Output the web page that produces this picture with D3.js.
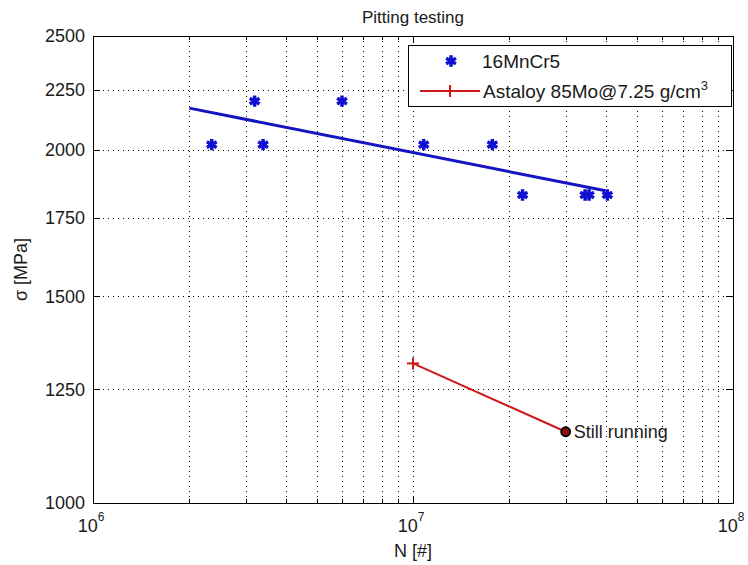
<!DOCTYPE html>
<html>
<head>
<meta charset="utf-8">
<script src="https://cdn.jsdelivr.net/npm/d3@7"></script>
<style>
  body { margin: 0; background: #fff; }
  text { font-family: Arial, "Liberation Sans", sans-serif; fill: #1a1a1a; }
</style>
</head>
<body>
<svg id="chart" width="748" height="565"></svg>
<script>
// 16MnCr5 measurements
const steelN = [2.35e6, 3.2e6, 3.4e6, 6.0e6, 1.08e7, 1.77e7, 2.2e7, 3.45e7, 3.55e7, 4.05e7]
const steelS = [2020, 2200, 2020, 2200, 2020, 2020, 1830, 1830, 1830, 1830]
// fitted line for 16MnCr5
const fitN = [2e6, 4e7]
const fitS = [2170, 1845]
// Astaloy 85Mo
const astN = [1e7, 3e7]
const astS = [1315, 1150]
const yTicks = [1000, 1250, 1500, 1750, 2000, 2250, 2500]
const xMajor = [1e6, 1e7, 1e8]

const mLeft = 93, mRight = 733, mTop = 36, mBottom = 503

const x = d3.scaleLog().domain([1e6, 1e8]).range([mLeft, mRight])
const y = d3.scaleLog().domain([1000, 2500]).range([mBottom, mTop])

const svg = d3.select("#chart")

// minor x positions 2..9 per decade
let xMinor = []
for (let e = 6; e < 8; e++) {
    for (let m = 2; m <= 9; m++) xMinor.push(m * Math.pow(10, e))
}

const grid = svg.append("g")
    .attr("stroke", "#000")
    .attr("stroke-width", 1)
    .attr("stroke-dasharray", "1,4")

grid.selectAll("line.vx")
    .data(xMinor.concat([1e7]))
    .join("line")
    .attr("x1", d => Math.round(x(d)) + 0.5)
    .attr("x2", d => Math.round(x(d)) + 0.5)
    .attr("y1", mTop)
    .attr("y2", mBottom)

grid.selectAll("line.hy")
    .data(yTicks.slice(1, -1))
    .join("line")
    .attr("x1", mLeft)
    .attr("x2", mRight)
    .attr("y1", d => Math.round(y(d)) + 0.5)
    .attr("y2", d => Math.round(y(d)) + 0.5)

// tick marks (inside, all four sides)
const ticks = svg.append("g").attr("stroke", "#000").attr("stroke-width", 1)
xMinor.forEach(d => {
    const px = Math.round(x(d)) + 0.5
    ticks.append("line").attr("x1", px).attr("x2", px).attr("y1", mBottom).attr("y2", mBottom - 4)
    ticks.append("line").attr("x1", px).attr("x2", px).attr("y1", mTop).attr("y2", mTop + 4)
})
xMajor.forEach(d => {
    const px = Math.round(x(d)) + 0.5
    ticks.append("line").attr("x1", px).attr("x2", px).attr("y1", mBottom).attr("y2", mBottom - 7)
    ticks.append("line").attr("x1", px).attr("x2", px).attr("y1", mTop).attr("y2", mTop + 7)
})
yTicks.forEach(d => {
    const py = Math.round(y(d)) + 0.5
    ticks.append("line").attr("x1", mLeft).attr("x2", mLeft + 7).attr("y1", py).attr("y2", py)
    ticks.append("line").attr("x1", mRight).attr("x2", mRight - 7).attr("y1", py).attr("y2", py)
})

// frame
svg.append("rect")
    .attr("x", mLeft + 0.5).attr("y", mTop + 0.5)
    .attr("width", mRight - mLeft).attr("height", mBottom - mTop)
    .attr("fill", "none").attr("stroke", "#000").attr("stroke-width", 1)

// y tick labels
svg.append("g").selectAll("text")
    .data(yTicks)
    .join("text")
    .attr("x", mLeft - 8)
    .attr("y", d => y(d))
    .attr("dy", "0.35em")
    .attr("text-anchor", "end")
    .style("font-size", "18px")
    .text(d => d)

// x tick labels 10^n
const xl = svg.append("g").selectAll("text")
    .data(xMajor)
    .join("text")
    .attr("x", d => x(d) - 2)
    .attr("y", mBottom + 29)
    .attr("text-anchor", "middle")
    .style("font-size", "18px")
xl.append("tspan").text("10")
xl.append("tspan")
    .attr("dy", -11)
    .style("font-size", "12px")
    .text(d => Math.round(Math.log10(d)))

// titles
svg.append("text")
    .attr("x", (mLeft + mRight) / 2).attr("y", 23)
    .attr("text-anchor", "middle")
    .style("font-size", "17px")
    .text("Pitting testing")

svg.append("text")
    .attr("x", (mLeft + mRight) / 2).attr("y", 557)
    .attr("text-anchor", "middle")
    .style("font-size", "18px")
    .text("N [#]")

svg.append("text")
    .attr("transform", `translate(27,${(mTop + mBottom) / 2}) rotate(-90)`)
    .attr("text-anchor", "middle")
    .style("font-size", "18px")
    .text("σ [MPa]")

const line = d3.line().x(d => x(d[0])).y(d => y(d[1]))

// fit line
svg.append("path")
    .datum(fitN.map((n, i) => [n, fitS[i]]))
    .attr("d", line)
    .attr("fill", "none")
    .attr("stroke", "#1414c0")
    .attr("stroke-width", 3)

// steel points
const star = d3.symbol().type(d3.symbolAsterisk).size(90)
svg.append("g").selectAll("path")
    .data(steelN.map((n, i) => [n, steelS[i]]))
    .join("path")
    .attr("transform", d => `translate(${x(d[0])},${y(d[1])})`)
    .attr("d", star)
    .attr("fill", "none")
    .attr("stroke", "#1010d0")
    .attr("stroke-width", 3.5)

// Astaloy
const astData = astN.map((n, i) => [n, astS[i]])
svg.append("path")
    .datum(astData)
    .attr("d", line)
    .attr("fill", "none")
    .attr("stroke", "#cc1818")
    .attr("stroke-width", 2)

svg.append("g").attr("stroke", "#cc1818").attr("stroke-width", 2)
    .selectAll("g")
    .data([astData[0]])
    .join("g")
    .attr("transform", d => `translate(${x(d[0])},${y(d[1])})`)
    .call(g => {
        g.append("line").attr("x1", -6).attr("x2", 6)
        g.append("line").attr("y1", -6).attr("y2", 6)
    })

const last = astData[astData.length - 1]
svg.append("circle")
    .attr("cx", x(last[0])).attr("cy", y(last[1]))
    .attr("r", 4.5)
    .attr("fill", "#8a1010")
    .attr("stroke", "#000")
    .attr("stroke-width", 1.8)

svg.append("text")
    .attr("x", x(last[0]) + 8).attr("y", y(last[1]))
    .attr("dy", "0.35em")
    .style("font-size", "18px")
    .text("Still running")

// legend
const lg = svg.append("g").attr("transform", "translate(408,45)")
lg.append("rect")
    .attr("x", 0.5).attr("y", 0.5)
    .attr("width", 323).attr("height", 61)
    .attr("fill", "#fff").attr("stroke", "#000")
lg.append("path")
    .attr("transform", "translate(43,16)")
    .attr("d", star)
    .attr("fill", "none")
    .attr("stroke", "#1010d0")
    .attr("stroke-width", 3.5)
lg.append("text")
    .attr("x", 74).attr("y", 16).attr("dy", "0.35em")
    .style("font-size", "19px")
    .text("16MnCr5")
lg.append("line")
    .attr("x1", 12).attr("x2", 72).attr("y1", 46).attr("y2", 46)
    .attr("stroke", "#cc1818").attr("stroke-width", 2)
lg.append("line")
    .attr("x1", 42).attr("x2", 42).attr("y1", 40).attr("y2", 52)
    .attr("stroke", "#cc1818").attr("stroke-width", 2)
const at = lg.append("text")
    .attr("x", 75).attr("y", 46).attr("dy", "0.35em")
    .style("font-size", "19px")
at.append("tspan").text("Astaloy 85Mo@7.25 g/cm")
at.append("tspan").attr("dy", -8).style("font-size", "13px").text("3")
</script>
</body>
</html>
